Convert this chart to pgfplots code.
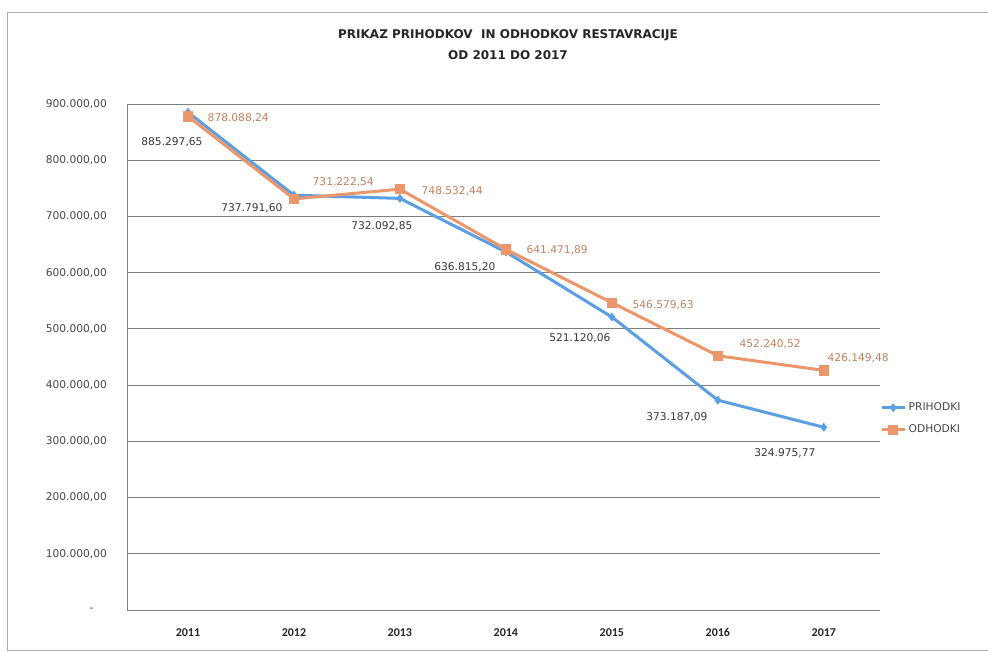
\documentclass[border=0pt]{standalone}
\usepackage{fontspec}
\setmainfont{DejaVu Sans}
\newfontfamily\yearfont{Carlito}
\usepackage{pgfplots}
\usepackage{pgfplotstable}
\pgfplotsset{compat=1.18}
\definecolor{prih}{RGB}{91,158,228}
\definecolor{odh}{RGB}{236,150,108}
\definecolor{odhtext}{RGB}{196,128,92}
\definecolor{labtext}{RGB}{55,55,55}
\definecolor{ticktext}{RGB}{70,70,70}
\definecolor{gridc}{RGB}{125,125,125}

\pgfplotstableread{
x y lab dx dy
0 885297.65 885.297,65 -12 -22.5
1 737791.60 737.791,60 -31.5 -9.75
2 732092.85 732.092,85 -13.5 -21
3 636815.20 636.815,20 -30.75 -11.25
4 521120.06 521.120,06 -24 -15.75
5 373187.09 373.187,09 -30.75 -12.75
6 324975.77 324.975,77 -29.25 -19.5
}\prihodki

\pgfplotstableread{
x y lab dx dy
0 878088.24 878.088,24 11.25 -1.5
1 731222.54 731.222,54 10.5 12.75
2 748532.44 748.532,44 12.75 -1.5
3 641471.89 641.471,89 12 -0.75
4 546579.63 546.579,63 12 -1.5
5 452240.52 452.240,52 12.75 9
6 426149.48 426.149,48 -0.75 9
}\odhodki

\begin{document}
\begin{tikzpicture}
\useasboundingbox (0,0) rectangle (741pt,489pt);
\draw[gray!65, line width=0.6pt] (741pt,480pt) -- (5.25pt,480pt) -- (5.25pt,1.5pt) -- (741pt,1.5pt);
\node[font=\bfseries\fontsize{9}{11}\selectfont, text=black!85] at (381pt,462.75pt) {PRIKAZ PRIHODKOV\ \ IN ODHODKOV RESTAVRACIJE};
\node[font=\bfseries\fontsize{9}{11}\selectfont, text=black!85] at (381pt,447.75pt) {OD 2011 DO 2017};
\begin{axis}[
  at={(95.25pt,31.5pt)}, anchor=south west,
  width=564.75pt, height=379.5pt, scale only axis,
  xmin=-0.575, xmax=6.53, ymin=0, ymax=900000,
  xtick={0,1,2,3,4,5,6},
  xticklabels={2011,2012,2013,2014,2015,2016,2017},
  ytick={0,100000,200000,300000,400000,500000,600000,700000,800000,900000},
  yticklabels={{\makebox[13pt][l]{-}},{100.000,00},{200.000,00},{300.000,00},{400.000,00},{500.000,00},{600.000,00},{700.000,00},{800.000,00},{900.000,00}},
  scaled y ticks=false,
  axis x line*=bottom, axis y line*=left,
  axis line style={gray, line width=0.6pt},
  ymajorgrids, grid style={gridc, line width=0.6pt},
  major tick length=0pt,
  yticklabel style={font=\fontsize{8}{9}\selectfont, text=ticktext, anchor=east, xshift=-11.5pt},
  xticklabel style={font=\yearfont\bfseries\fontsize{9}{10}\selectfont, text=black!85, yshift=-10pt, text height=6.5pt, text depth=0pt},
  clip=false,
  legend style={at={(1.0,0.378)}, anchor=west, draw=none, fill=none,
    font=\fontsize{8}{9}\selectfont, text=ticktext, inner xsep=0pt, row sep=5pt},
  legend cell align=left,
  point meta=explicit symbolic,
  nodes near coords,
  visualization depends on={\thisrow{dx}\as\dx},
  visualization depends on={\thisrow{dy}\as\dy},
]
\addplot[color=prih, line width=2.25pt, mark=diamond*, mark size=3pt,
  mark options={solid, fill=prih, draw=prih, line width=0.5pt},
  every node near coord/.append style={font=\fontsize{8}{9}\selectfont, text=labtext, anchor=center, xshift=\dx*1pt, yshift=\dy*1pt}]
  table[x=x, y=y, meta=lab] {\prihodki};
\addlegendentry{PRIHODKI}
\addplot[color=odh, line width=2.25pt, mark=square*, mark size=3.5pt,
  mark options={solid, fill=odh, draw=odh, line width=0.5pt},
  every node near coord/.append style={font=\fontsize{8}{9}\selectfont, text=odhtext, anchor=west, xshift=\dx*1pt, yshift=\dy*1pt}]
  table[x=x, y=y, meta=lab] {\odhodki};
\addlegendentry{ODHODKI}
\end{axis}
\end{tikzpicture}
\end{document}
